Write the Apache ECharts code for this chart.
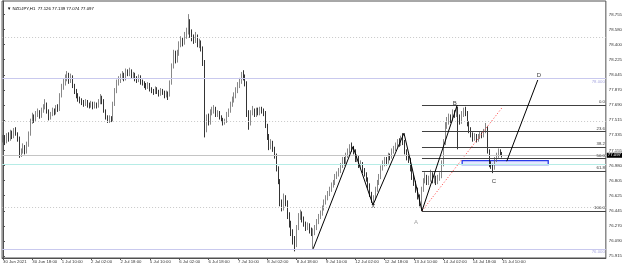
<!DOCTYPE html>
<html><head><meta charset="utf-8">
<script src="https://cdn.jsdelivr.net/npm/echarts@6/dist/echarts.min.js"></script>
<style>html,body{margin:0;padding:0;background:#fff}#c{width:625px;height:268px}</style>
</head><body><div id="c"></div>
<script>
const titleText = "\u25BC NZDJPY,H1  77.126 77.139 77.074 77.097";
const timeLabels = ["30 Jun 2021","30 Jun 18:00","1 Jul 10:00","2 Jul 02:00","2 Jul 18:00","5 Jul 10:00","6 Jul 02:00","6 Jul 18:00","7 Jul 10:00","8 Jul 02:00","8 Jul 18:00","9 Jul 10:00","12 Jul 02:00","12 Jul 18:00","13 Jul 10:00","14 Jul 02:00","14 Jul 18:00","15 Jul 10:00"];
const labelStep = 16;
const totalSlots = 329;

const opens = [
77.28,77.30,77.26,77.33,77.28,77.36,77.32,77.38,77.35,77.30,
77.10,77.15,77.20,77.14,77.22,77.35,77.50,77.55,77.52,77.58,
77.60,77.56,77.63,77.66,77.70,77.62,77.55,77.58,77.62,77.60,
77.66,77.64,77.80,77.90,77.95,78.00,78.05,77.98,78.02,77.92,
77.85,77.80,77.76,77.74,77.72,77.70,77.73,77.69,77.68,77.71,
77.67,77.70,77.68,77.72,77.78,77.74,77.62,77.55,77.50,77.54,
77.52,77.70,77.86,77.95,77.98,78.02,78.05,78.00,78.08,78.06,
78.10,78.03,78.05,78.00,77.98,78.02,77.96,77.95,77.92,77.90,
77.93,77.88,77.86,77.84,77.88,77.85,77.82,77.86,77.84,77.80,
77.83,77.81,77.95,78.15,78.30,78.22,78.30,78.40,78.45,78.42,
78.50,78.55,78.68,78.52,78.48,78.45,78.50,78.40,78.43,78.36,
78.20,77.40,77.55,77.48,77.60,77.62,77.65,77.58,77.60,77.55,
77.52,77.48,77.50,77.58,77.62,77.70,77.75,77.80,77.86,77.92,
77.97,78.05,78.02,77.95,77.60,77.48,77.60,77.62,77.58,77.63,
77.60,77.64,77.62,77.60,77.45,77.32,77.20,77.25,77.18,77.10,
76.95,76.80,76.55,76.48,76.60,76.55,76.40,76.30,76.20,76.10,
76.05,76.25,76.38,76.42,76.35,76.30,76.25,76.28,76.22,76.20,
76.20,76.25,76.32,76.38,76.42,76.48,76.55,76.60,76.65,76.70,
76.75,76.78,76.85,76.88,76.92,76.98,77.05,77.02,77.10,77.15,
77.20,77.18,77.15,77.05,77.08,76.98,77.00,76.92,76.88,76.82,
76.75,76.65,76.58,76.60,76.70,76.78,76.85,76.95,77.00,77.05,
77.02,77.10,77.08,77.15,77.18,77.22,77.25,77.24,77.30,77.26,
77.15,77.08,77.05,76.95,76.85,76.78,76.70,76.62,76.55,76.70,
76.80,76.85,76.78,76.82,76.88,76.80,76.84,76.78,76.83,76.86,
77.00,77.25,77.45,77.50,77.55,77.52,77.60,77.58,77.65,77.55,
77.50,77.58,77.62,77.60,77.48,77.40,77.35,77.30,77.33,77.28,
77.32,77.35,77.33,77.38,77.42,77.15,77.00,76.98,76.95,77.05,
77.10,77.15,77.126];
const closes = [
77.30,77.26,77.33,77.28,77.36,77.32,77.38,77.35,77.30,77.10,
77.15,77.20,77.14,77.22,77.35,77.50,77.55,77.52,77.58,77.60,
77.56,77.63,77.66,77.70,77.62,77.55,77.58,77.62,77.60,77.66,
77.64,77.80,77.90,77.95,78.00,78.05,77.98,78.02,77.92,77.85,
77.80,77.76,77.74,77.72,77.70,77.73,77.69,77.68,77.71,77.67,
77.70,77.68,77.72,77.78,77.74,77.62,77.55,77.50,77.54,77.52,
77.70,77.86,77.95,77.98,78.02,78.05,78.00,78.08,78.06,78.10,
78.03,78.05,78.00,77.98,78.02,77.96,77.95,77.92,77.90,77.93,
77.88,77.86,77.84,77.88,77.85,77.82,77.86,77.84,77.80,77.83,
77.81,77.95,78.15,78.30,78.22,78.30,78.40,78.45,78.42,78.50,
78.55,78.68,78.52,78.48,78.45,78.50,78.40,78.43,78.36,78.20,
77.40,77.55,77.48,77.60,77.62,77.65,77.58,77.60,77.55,77.52,
77.48,77.50,77.58,77.62,77.70,77.75,77.80,77.86,77.92,77.97,
78.05,78.02,77.95,77.60,77.48,77.60,77.62,77.58,77.63,77.60,
77.64,77.62,77.60,77.45,77.32,77.20,77.25,77.18,77.10,76.95,
76.80,76.55,76.48,76.60,76.55,76.40,76.30,76.20,76.10,76.05,
76.25,76.38,76.42,76.35,76.30,76.25,76.28,76.22,76.20,76.20,
76.25,76.32,76.38,76.42,76.48,76.55,76.60,76.65,76.70,76.75,
76.78,76.85,76.88,76.92,76.98,77.05,77.02,77.10,77.15,77.20,
77.18,77.15,77.05,77.08,76.98,77.00,76.92,76.88,76.82,76.75,
76.65,76.58,76.60,76.70,76.78,76.85,76.95,77.00,77.05,77.02,
77.10,77.08,77.15,77.18,77.22,77.25,77.24,77.30,77.26,77.15,
77.08,77.05,76.95,76.85,76.78,76.70,76.62,76.55,76.70,76.80,
76.85,76.78,76.82,76.88,76.80,76.84,76.78,76.83,76.86,77.00,
77.25,77.45,77.50,77.55,77.52,77.60,77.58,77.65,77.55,77.50,
77.58,77.62,77.60,77.48,77.40,77.35,77.30,77.33,77.28,77.32,
77.35,77.33,77.38,77.42,77.15,77.00,76.98,76.95,77.05,77.10,
77.15,77.126,77.097];
const highs = [
77.34,77.33,77.36,77.37,77.40,77.39,77.42,77.43,77.37,77.32,
77.18,77.24,77.22,77.26,77.38,77.53,77.60,77.58,77.62,77.65,
77.63,77.66,77.70,77.76,77.72,77.64,77.61,77.66,77.65,77.69,
77.70,77.83,77.94,78.00,78.05,78.09,78.07,78.06,78.04,77.94,
77.88,77.83,77.79,77.77,77.75,77.76,77.75,77.72,77.74,77.73,
77.73,77.72,77.76,77.82,77.80,77.76,77.64,77.57,77.57,77.56,
77.73,77.89,77.99,78.03,78.06,78.09,78.07,78.12,78.11,78.13,
78.11,78.08,78.07,78.03,78.05,78.04,77.99,77.97,77.95,77.96,
77.95,77.90,77.88,77.91,77.90,77.87,77.89,77.88,77.86,77.86,
77.85,77.98,78.18,78.34,78.33,78.34,78.44,78.50,78.48,78.55,
78.60,78.76,78.70,78.58,78.52,78.55,78.52,78.47,78.45,78.38,
78.22,77.58,77.59,77.64,77.67,77.69,77.67,77.63,77.62,77.57,
77.54,77.53,77.61,77.65,77.73,77.79,77.84,77.90,77.96,78.01,
78.08,78.10,78.05,77.97,77.63,77.63,77.68,77.65,77.66,77.66,
77.67,77.67,77.65,77.62,77.47,77.35,77.29,77.27,77.20,77.12,
76.97,76.82,76.58,76.65,76.63,76.57,76.43,76.33,76.23,76.15,
76.28,76.42,76.46,76.44,76.38,76.32,76.31,76.30,76.25,76.24,
76.28,76.35,76.41,76.45,76.51,76.58,76.63,76.68,76.73,76.78,
76.81,76.88,76.91,76.95,77.01,77.08,77.08,77.13,77.18,77.23,
77.25,77.21,77.17,77.11,77.10,77.04,77.02,76.95,76.90,76.84,
76.77,76.67,76.63,76.73,76.81,76.88,76.98,77.04,77.08,77.08,
77.13,77.12,77.18,77.21,77.25,77.29,77.30,77.33,77.36,77.28,
77.17,77.11,77.07,76.97,76.87,76.80,76.72,76.64,76.73,76.83,
76.90,76.87,76.86,76.93,76.90,76.88,76.86,76.87,76.90,77.04,
77.29,77.49,77.55,77.59,77.58,77.64,77.63,77.69,77.67,77.58,
77.62,77.66,77.67,77.62,77.50,77.43,77.37,77.36,77.35,77.35,
77.38,77.37,77.41,77.48,77.44,77.17,77.03,77.00,77.08,77.13,
77.18,77.17,77.139];
const lows = [
77.25,77.22,77.24,77.26,77.27,77.29,77.30,77.33,77.26,77.07,
77.08,77.12,77.11,77.12,77.20,77.33,77.47,77.48,77.50,77.55,
77.53,77.54,77.60,77.64,77.59,77.51,77.52,77.56,77.57,77.58,
77.61,77.62,77.78,77.87,77.92,77.97,77.94,77.95,77.89,77.82,
77.77,77.73,77.71,77.69,77.67,77.68,77.66,77.65,77.66,77.64,
77.65,77.65,77.66,77.70,77.70,77.60,77.52,77.48,77.48,77.49,
77.50,77.68,77.83,77.92,77.95,77.99,77.97,77.98,78.03,78.03,
78.00,78.00,77.97,77.95,77.96,77.93,77.92,77.89,77.87,77.88,
77.85,77.83,77.81,77.82,77.82,77.79,77.80,77.81,77.77,77.78,
77.75,77.79,77.93,78.12,78.18,78.19,78.27,78.37,78.38,78.40,
78.47,78.52,78.48,78.44,78.41,78.42,78.37,78.36,78.32,78.15,
77.31,77.37,77.45,77.46,77.57,77.59,77.55,77.55,77.52,77.49,
77.45,77.46,77.48,77.55,77.60,77.67,77.72,77.77,77.83,77.89,
77.94,77.98,77.91,77.55,77.40,77.45,77.57,77.55,77.55,77.57,
77.57,77.59,77.56,77.42,77.28,77.16,77.17,77.14,77.06,76.91,
76.76,76.50,76.44,76.45,76.50,76.35,76.25,76.15,76.05,75.97,
76.02,76.22,76.34,76.31,76.26,76.21,76.22,76.18,76.15,76.00,
76.16,76.22,76.29,76.35,76.39,76.45,76.52,76.57,76.62,76.67,
76.72,76.75,76.82,76.85,76.89,76.95,76.98,77.00,77.07,77.12,
77.14,77.11,77.02,77.02,76.95,76.95,76.89,76.85,76.79,76.71,
76.61,76.54,76.52,76.57,76.67,76.75,76.82,76.92,76.97,76.98,
77.00,77.04,77.06,77.12,77.15,77.19,77.20,77.21,77.22,77.11,
77.04,77.01,76.91,76.81,76.74,76.66,76.58,76.50,76.44,76.67,
76.77,76.75,76.75,76.79,76.77,76.77,76.75,76.76,76.80,76.83,
76.97,77.22,77.41,77.46,77.48,77.49,77.54,77.55,77.17,77.46,
77.47,77.55,77.56,77.44,77.36,77.31,77.26,77.27,77.25,77.26,
77.29,77.30,77.31,77.36,77.12,76.96,76.94,76.89,76.93,77.02,
77.07,77.10,77.074];

const yTickValues = [75.915,76.090,76.270,76.445,76.625,76.805,76.980,77.155,77.335,77.515,77.690,77.870,78.045,78.225,78.400,78.580,78.755];
const yRange = [75.892, 78.914];

const fibNames = ["0.0","23.6","38.2","50.0","61.8","100.0"];
const fibPrices = [77.690, 77.380, 77.200, 77.060, 76.915, 76.445];
const fibStart = 228.3;
const zigzag = [[169,76.00],[190.7,77.20],[201.6,76.515],[218.5,77.36],[228.3,76.445],[247.5,77.69]];
const legCD = [[274.5,77.03],[291.4,77.985]];
const trendRed = [[228.3,76.445],[271.8,77.656]];
const zoneBox = [[250.2,77.038],[297.1,76.991]];
const patternLabels = [["X",201.8,76.50,"#000"],["A",225,76.315,"#888"],["B",246.2,77.715,"#000"],["C",267.5,76.797,"#000"],["D",292,78.04,"#000"]];
const dottedLevels = [78.494, 77.503, 76.489];
const roundLevels = [78.000, 76.000];
const bidPrice = 77.097;
const cyanLevel = 76.99;

const FS = 4.3;
const FONT = 'Liberation Sans';
const chart = echarts.init(document.getElementById('c'), null, {renderer:'canvas'});
const cats = Array.from({length: totalSlots}, (_, i) => i);
const candleData = closes.map((c, i) => [opens[i], c, lows[i], highs[i]]);
const labelAt = (idx) => idx % labelStep === 0 && (idx / labelStep) < timeLabels.length;
const xMaxVal = totalSlots - 0.5;

const fullLines = [];
dottedLevels.forEach(v => fullLines.push({yAxis: v, lineStyle:{color:'#c8c8c8', type:[1,2], width:1}, label:{show:false}}));
roundLevels.forEach(v => fullLines.push({yAxis: v, lineStyle:{color:'#c9c9ee', type:'solid', width:1},
  label:{show:true, position:'insideEndBottom', formatter: v.toFixed(3), color:'#a8a8e0', fontSize:FS, fontFamily:FONT, distance:1}}));
fullLines.push({yAxis: cyanLevel, lineStyle:{color:'#b6ece6', type:'solid', width:1}, label:{show:false}});
fullLines.push({yAxis: bidPrice, lineStyle:{color:'#c4c4c4', type:'solid', width:1},
  label:{show:true, position:'end', formatter: bidPrice.toFixed(3), color:'#fff', backgroundColor:'#000', padding:[1,1,0,1], fontSize:FS, fontFamily:FONT, distance:1}});

const fibLines = fibPrices.map((p, k) => [
  {coord:[fibStart, p], name: fibNames[k]},
  {coord:[xMaxVal, p]}
]);

chart.setOption({
  animation: false,
  title: {text: titleText, left: 2, top: 2, textStyle:{fontSize:FS, fontWeight:'normal', color:'#000', fontFamily:FONT}},
  grid: {left: 2, right: 19, top: 1, bottom: 10, show: true, borderColor:'#505050', borderWidth:1, backgroundColor:'#fff'},
  xAxis: [
    {type:'category', data: cats, boundaryGap: true,
     axisLine:{show:true, lineStyle:{color:'#505050'}},
     axisTick:{show:true, alignWithLabel:true, interval:(i)=>labelAt(i), length:2, lineStyle:{color:'#505050'}},
     axisLabel:{show:true, interval:(i)=>labelAt(i), formatter:(v, i)=>timeLabels[i/labelStep] || '', align:'left', margin:2, fontSize:FS, color:'#333', fontFamily:FONT},
     splitLine:{show:false}},
    {type:'value', min:-0.5, max:xMaxVal, show:false, splitLine:{show:false}}
  ],
  yAxis: {type:'value', position:'right', min: yRange[0], max: yRange[1], scale:true,
    axisLine:{show:true, lineStyle:{color:'#505050'}},
    axisTick:{show:true, length:2, customValues: yTickValues, lineStyle:{color:'#505050'}},
    axisLabel:{show:true, customValues: yTickValues, formatter:(v)=>v.toFixed(3), margin:3, fontSize:FS, color:'#333', fontFamily:FONT},
    splitLine:{show:false}},
  series: [
    {type:'candlestick', xAxisIndex:0, yAxisIndex:0, data: candleData, barWidth: 1.3,
     itemStyle:{color:'#b0b0b0', color0:'#000', borderColor:'#6a6a6a', borderColor0:'#000', borderWidth:0.8},
     markLine:{silent:true, symbol:['none','none'], data: fullLines}},
    {type:'line', xAxisIndex:1, data: zigzag, symbol:'none', lineStyle:{color:'#000', width:1}, z:5},
    {type:'line', xAxisIndex:1, data: legCD, symbol:'none', lineStyle:{color:'#000', width:1}, z:5,
     markArea:{silent:true, itemStyle:{color:'rgba(225,228,255,0.9)', borderColor:'#2a3bea', borderWidth:1.3},
       data:[[{coord: zoneBox[0]}, {coord: zoneBox[1]}]]},
     markLine:{silent:true, symbol:['none','none'], lineStyle:{color:'#404040', type:'solid', width:1},
       label:{show:true, position:'insideEndTop', formatter:'{b}', fontSize:FS, color:'#333', fontFamily:FONT, distance:1},
       data: fibLines}},
    {type:'line', xAxisIndex:1, data: trendRed, symbol:'none', lineStyle:{color:'#ff3b3b', width:1, type:[1,2]}, z:4},
    {type:'scatter', xAxisIndex:1, symbolSize:0, z:6,
     data: patternLabels.map(p => ({name:p[0], value:[p[1], p[2]], label:{color:p[3]}})),
     label:{show:true, position:'inside', formatter:'{b}', fontSize:6, fontFamily:FONT}}
  ]
});
</script></body></html>
